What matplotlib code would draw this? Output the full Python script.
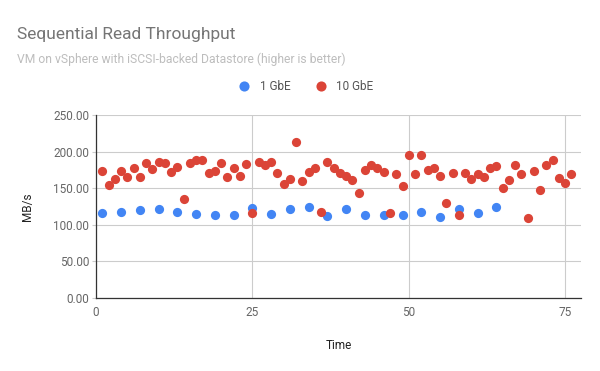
import matplotlib.pyplot as plt
from matplotlib.ticker import FormatStrFormatter

plt.rcParams['font.family'] = ['Roboto', 'DejaVu Sans']

# 1 GbE samples, every third time step
gbe1_time = [1, 4, 7, 10, 13, 16, 19, 22, 25, 28, 31, 34, 37, 40, 43, 46, 49,
             52, 55, 58, 61, 64]
gbe1_mbs = [116, 117, 120, 122, 118, 115, 113, 114, 123, 115, 121, 124, 112,
            122, 113, 114, 114, 117, 111, 121, 116, 124]

# 10 GbE samples
gbe10_time = list(range(1, 77))
gbe10_mbs = [173, 155, 163, 174, 165, 177, 165, 184, 176, 186, 185, 172, 179,
             135, 184, 188, 189, 171, 174, 184, 165, 177, 166, 183, 116, 186,
             182, 186, 171, 156, 163, 213, 160, 172, 177, 118, 186, 178, 171,
             166, 161, 144, 175, 182, 177, 172, 116, 170, 153, 196, 169, 195,
             175, 178, 167, 130, 171, 113, 171, 163, 170, 165, 178, 180, 150,
             161, 182, 170, 109, 174, 148, 181, 188, 164, 157, 170]

blue = '#4285F4'
red = '#DB4437'

fig = plt.figure(figsize=(6, 3.71), dpi=100)
ax = fig.add_axes([0.16, 0.197, 0.808, 0.493])

ax.scatter(gbe1_time, gbe1_mbs, s=44, color=blue, label='1 GbE', zorder=3, linewidths=0)
ax.scatter(gbe10_time, gbe10_mbs, s=44, color=red, label='10 GbE', zorder=3, linewidths=0)

ax.set_xlim(0, 77.5)
ax.set_ylim(0, 250)
ax.set_xticks([0, 25, 50, 75])
ax.set_yticks([0, 50, 100, 150, 200, 250])
ax.yaxis.set_major_formatter(FormatStrFormatter('%.2f'))
ax.grid(True, color='#cccccc', linewidth=0.8)
ax.set_axisbelow(True)

for side in ['top', 'right']:
    ax.spines[side].set_visible(False)
for side in ['left', 'bottom']:
    ax.spines[side].set_color('#333333')
    ax.spines[side].set_linewidth(0.9)

ax.tick_params(axis='y', length=3, color='#cccccc', labelsize=8.5, labelcolor='#666666', pad=2)
ax.tick_params(axis='x', length=0, labelsize=8.5, labelcolor='#666666', pad=6)

ax.set_ylabel('MB/s', fontsize=8.5, color='#222222', labelpad=14)
ax.set_xlabel('Time', fontsize=8.5, color='#222222', labelpad=14)

fig.text(0.028, 0.895, 'Sequential Read Throughput', fontsize=12.5, color='#757575')
fig.text(0.028, 0.83, 'VM on vSphere with iSCSI-backed Datastore (higher is better)',
         fontsize=8.7, color='#bdbdbd')

fig.legend(loc='center', bbox_to_anchor=(0.505, 0.768), ncol=2, frameon=False,
           fontsize=8.5, labelcolor='#555555', handletextpad=0.3, columnspacing=1.6,
           markerscale=1.1)

fig.savefig('out.png', dpi=100)
